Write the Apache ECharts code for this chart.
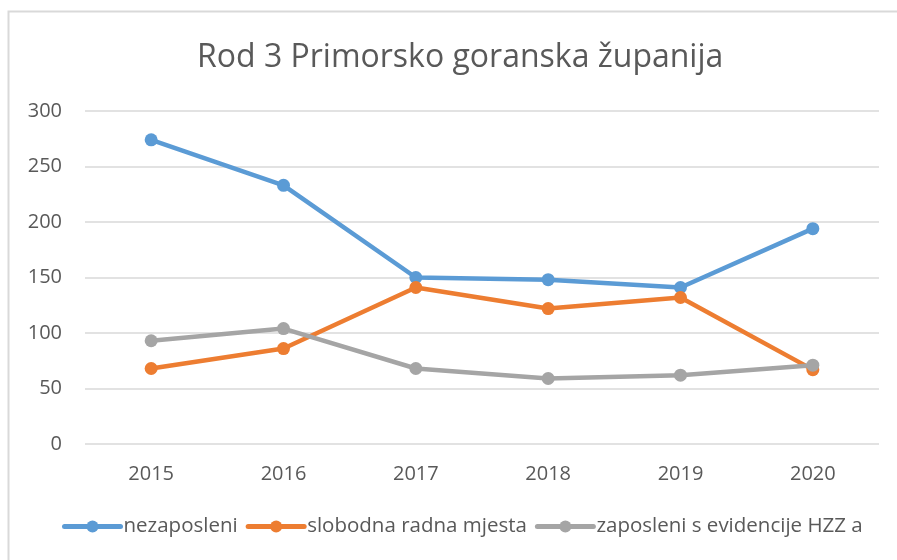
<!DOCTYPE html>
<html>
<head>
<meta charset="utf-8">
<script src="https://cdn.jsdelivr.net/npm/echarts@6/dist/echarts.min.js"></script>
<style>
  html, body { margin: 0; padding: 0; background: #fff; }
  #chart { width: 897px; height: 560px; }
</style>
</head>
<body>
<div id="chart"></div>
<script>
// Years on the category axis
const years = ['2015', '2016', '2017', '2018', '2019', '2020'];

// Series values
const nezaposleni = [274, 233, 150, 148, 141, 194];
const slobodnaRadnaMjesta = [68, 86, 141, 122, 132, 67];
const zaposleniHZZ = [93, 104, 68, 59, 62, 71];

// Y axis ticks
const yMin = 0, yMax = 300, yStep = 50;

const FONT = '"Open Sans", "Noto Sans", sans-serif';
const TEXT = '#595959';

const chart = echarts.init(document.getElementById('chart'), null, { renderer: 'canvas' });

function lineSeries(name, data, color) {
  return {
    name: name,
    type: 'line',
    data: data,
    symbol: 'circle',
    symbolSize: 13,
    lineStyle: { color: color, width: 4.5, cap: 'round', join: 'round' },
    itemStyle: { color: color },
    emphasis: { disabled: true },
    z: 3
  };
}

chart.setOption({
  animation: false,
  backgroundColor: '#ffffff',
  graphic: [{
    type: 'rect',
    shape: { x: 8.5, y: 11.5, width: 1000, height: 1000 },
    style: { fill: 'none', stroke: '#D9D9D9', lineWidth: 2 },
    silent: true
  }],
  title: {
    text: 'Rod 3 Primorsko goranska županija',
    left: 192,
    top: 37,
    textStyle: { fontFamily: FONT, fontSize: 32, fontWeight: 'normal', color: TEXT }
  },
  legend: {
    left: 62,
    top: 516,
    itemWidth: 56,
    itemHeight: 15,
    itemGap: 8,
    padding: 0,
    lineStyle: { width: 5 },
    textStyle: { fontFamily: FONT, fontSize: 20.5, color: TEXT, padding: [0, 0, 0, -2] },
    data: ['nezaposleni', 'slobodna radna mjesta', 'zaposleni s evidencije HZZ a']
  },
  grid: { left: 85, right: 18, top: 111, bottom: 116, containLabel: false },
  xAxis: {
    type: 'category',
    data: years,
    boundaryGap: true,
    axisLine: { show: false },
    axisTick: { show: false },
    axisLabel: { fontFamily: FONT, fontSize: 20, color: TEXT, margin: 20 }
  },
  yAxis: {
    type: 'value',
    min: yMin,
    max: yMax,
    interval: yStep,
    axisLine: { show: false },
    axisTick: { show: false },
    axisLabel: { fontFamily: FONT, fontSize: 20, color: TEXT, margin: 23 },
    splitLine: { lineStyle: { color: '#D9D9D9', width: 1.5 } }
  },
  series: [
    lineSeries('nezaposleni', nezaposleni, '#5B9BD5'),
    lineSeries('slobodna radna mjesta', slobodnaRadnaMjesta, '#ED7D31'),
    lineSeries('zaposleni s evidencije HZZ a', zaposleniHZZ, '#A5A5A5')
  ]
});
</script>
</body>
</html>
